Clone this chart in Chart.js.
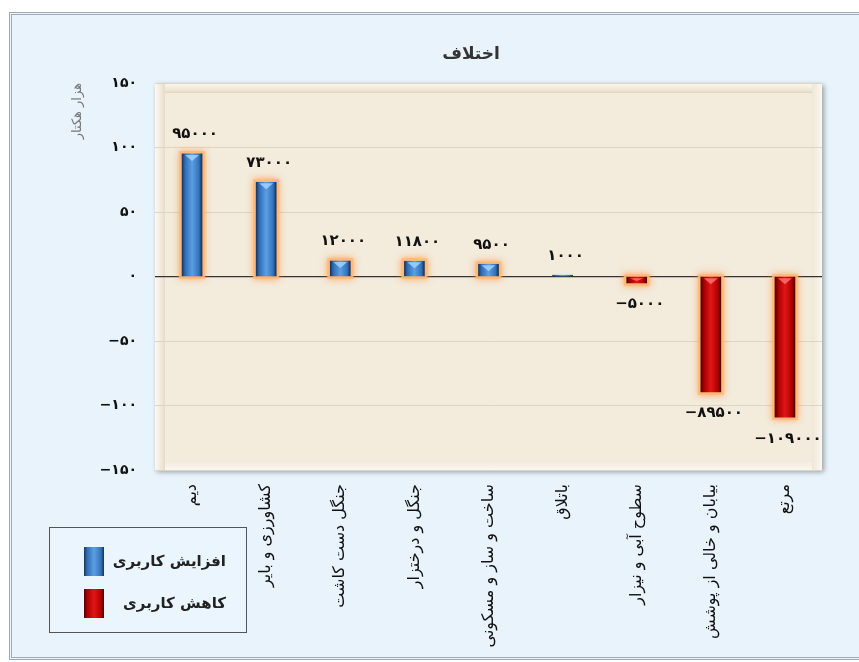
<!DOCTYPE html>
<html>
<head>
<meta charset="utf-8">
<script src="https://cdn.jsdelivr.net/npm/chart.js@4"></script>
<style>
  html, body { margin: 0; padding: 0; background: #fff; }
  #wrap { position: relative; width: 859px; height: 662px; overflow: hidden; }
  #panel {
    position: absolute; left: 9px; top: 12px; width: 880px; height: 642px;
    background: #e8f3fc; border: 3px double #a2abb3;
  }
  canvas { position: absolute; left: 0; top: 0; }
</style>
</head>
<body>
<div id="wrap">
  <div id="panel"></div>
  <canvas id="chart" width="859" height="662"></canvas>
</div>
<script>
// ── داده‌ها (هزار هکتار) ──
const categories = [
  "دیم",
  "کشاورزی و بایر",
  "جنگل دست کاشت",
  "جنگل و درختزار",
  "ساخت و ساز و مسکونی",
  "باتلاق",
  "سطوح آبی و نیزار",
  "بیابان و خالی از پوشش",
  "مرتع",
];
const values = [95, 73, 12, 11.8, 9.5, 1, -5, -89.5, -109];
const valueLabels = [95000, 73000, 12000, 11800, 9500, 1000, -5000, -89500, -109000];
const yTicks = [-150, -100, -50, 0, 50, 100, 150];
const legendLabels = ["افزایش کاربری", "کاهش کاربری"];

const FONT = "'DejaVu Sans', sans-serif";
const BAR_W = 20;

// اعداد فارسی
function fa(n) {
  return String(n).replace(/-/g, "−").replace(/\d/g, (d) => "۰۱۲۳۴۵۶۷۸۹"[d]);
}

function barGradient(ctx, x, w, positive) {
  const g = ctx.createLinearGradient(x - w / 2, 0, x + w / 2, 0);
  if (positive) {
    g.addColorStop(0, "#17365f");
    g.addColorStop(0.15, "#2f6cb3");
    g.addColorStop(0.5, "#5b9fe3");
    g.addColorStop(0.85, "#3372bb");
    g.addColorStop(1, "#142f55");
  } else {
    g.addColorStop(0, "#4f0000");
    g.addColorStop(0.15, "#a80000");
    g.addColorStop(0.5, "#e01616");
    g.addColorStop(0.85, "#b00000");
    g.addColorStop(1, "#4a0000");
  }
  return g;
}

// ── قاب زمینه نمودار ──
const framePlugin = {
  id: "frame",
  beforeDraw(chart) {
    const { ctx, chartArea: a } = chart;
    const w = a.right - a.left, h = a.bottom - a.top;
    ctx.save();
    ctx.shadowColor = "rgba(0,0,0,0.35)";
    ctx.shadowBlur = 5;
    ctx.shadowOffsetX = 2;
    ctx.shadowOffsetY = 2;
    ctx.fillStyle = "#f8f2e7";
    ctx.fillRect(a.left, a.top, w, h);
    ctx.restore();

    const b = 10;
    ctx.save();
    ctx.fillStyle = "#f3ebdc";
    ctx.fillRect(a.left + b, a.top + b, w - 2 * b, h - 2 * b);
    // لبه‌های برجسته
    let g = ctx.createLinearGradient(0, a.top, 0, a.top + b);
    g.addColorStop(0, "#fcf9f3");
    g.addColorStop(0.7, "#efe6d5");
    g.addColorStop(1, "#e2d6c0");
    ctx.fillStyle = g;
    ctx.fillRect(a.left + b, a.top, w - 2 * b, b);
    g = ctx.createLinearGradient(a.left, 0, a.left + b, 0);
    g.addColorStop(0, "#fcf9f3");
    g.addColorStop(0.7, "#efe6d5");
    g.addColorStop(1, "#e5dac6");
    ctx.fillStyle = g;
    ctx.fillRect(a.left, a.top, b, h);
    g = ctx.createLinearGradient(a.right - b, 0, a.right, 0);
    g.addColorStop(0, "#efe6d6");
    g.addColorStop(1, "#fbf8f1");
    ctx.fillStyle = g;
    ctx.fillRect(a.right - b, a.top, b, h);
    g = ctx.createLinearGradient(0, a.bottom - b, 0, a.bottom);
    g.addColorStop(0, "#f1e9da");
    g.addColorStop(1, "#fbf8f1");
    ctx.fillStyle = g;
    ctx.fillRect(a.left + b, a.bottom - b, w - 2 * b, b);
    ctx.restore();
  },
};

// ── هاله نارنجی، سر میله‌ها، برچسب‌ها، عنوان و راهنما ──
const barsPlugin = {
  id: "bars",
  beforeDatasetsDraw(chart) {
    const ctx = chart.ctx;
    const meta = chart.getDatasetMeta(0);
    ctx.save();
    ctx.shadowColor = "rgba(255,140,50,0.9)";
    ctx.shadowBlur = 7;
    ctx.fillStyle = "rgba(255,185,120,0.85)";
    meta.data.forEach((el) => {
      const top = Math.min(el.y, el.base);
      const bot = Math.max(el.y, el.base);
      if (bot - top < 2) return;
      ctx.fillRect(el.x - el.width / 2 - 3, top - 3, el.width + 6, bot - top + 6);
    });
    ctx.restore();
  },
  afterDatasetsDraw(chart) {
    const ctx = chart.ctx;
    const meta = chart.getDatasetMeta(0);
    meta.data.forEach((el, i) => {
      const v = values[i];
      const top = Math.min(el.y, el.base);
      const bot = Math.max(el.y, el.base);
      const w = el.width;
      // سر مثلثی روشن
      if (bot - top > 4) {
        ctx.save();
        ctx.fillStyle = v > 0 ? "rgba(160,210,255,0.85)" : "rgba(255,120,120,0.8)";
        const d = Math.min(7, bot - top - 2);
        ctx.beginPath();
        ctx.moveTo(el.x - w / 2 + 3, top + 1);
        ctx.lineTo(el.x + w / 2 - 3, top + 1);
        ctx.lineTo(el.x, top + d);
        ctx.closePath();
        ctx.fill();
        ctx.restore();
      }
      // برچسب مقدار
      ctx.save();
      ctx.font = "bold 15px " + FONT;
      ctx.fillStyle = "#111";
      ctx.textAlign = "center";
      if (v >= 0) {
        ctx.textBaseline = "bottom";
        ctx.fillText(fa(valueLabels[i]), el.x + 3, el.y - 12);
      } else {
        ctx.textBaseline = "top";
        ctx.fillText(fa(valueLabels[i]), el.x + 3, el.y + 14);
      }
      ctx.restore();
    });
  },
  afterDraw(chart) {
    const ctx = chart.ctx;
    // عنوان
    ctx.save();
    ctx.font = "bold 17px " + FONT;
    ctx.fillStyle = "#333";
    ctx.textAlign = "center";
    ctx.textBaseline = "middle";
    ctx.fillText("اختلاف", 471, 55);
    ctx.restore();

    // راهنما
    ctx.save();
    ctx.fillStyle = "#ebf5fd";
    ctx.fillRect(49, 527, 198, 106);
    ctx.strokeStyle = "#555";
    ctx.lineWidth = 1;
    ctx.strokeRect(49.5, 527.5, 197, 105);
    const items = [
      { y: 547, pos: true },
      { y: 589, pos: false },
    ];
    items.forEach((it, k) => {
      ctx.fillStyle = barGradient(ctx, 94, 20, it.pos);
      ctx.fillRect(84, it.y, 20, 29);
      ctx.font = "bold 15px " + FONT;
      ctx.fillStyle = "#222";
      ctx.textAlign = "right";
      ctx.textBaseline = "middle";
      ctx.fillText(legendLabels[k], 226, it.y + 15);
    });
    ctx.restore();
  },
};

new Chart(document.getElementById("chart"), {
  type: "bar",
  data: {
    labels: categories,
    datasets: [
      {
        data: values,
        barThickness: BAR_W,
        borderWidth: 0,
        backgroundColor: (c) => {
          const chart = c.chart;
          const v = values[c.dataIndex];
          if (!chart.chartArea || !chart.scales.x) return v >= 0 ? "#4a8fd6" : "#d01010";
          const x = chart.scales.x.getPixelForValue(c.dataIndex);
          return barGradient(chart.ctx, x, BAR_W, v >= 0);
        },
      },
    ],
  },
  options: {
    responsive: false,
    animation: false,
    layout: { padding: { top: 83, right: 37, bottom: 10, left: 0 } },
    plugins: {
      legend: { display: false },
      title: { display: false },
      tooltip: { enabled: false },
    },
    scales: {
      x: {
        afterFit: (s) => { s.height = 182; },
        grid: { display: false, drawTicks: false },
        border: { display: false },
        ticks: {
          autoSkip: false,
          maxRotation: 90,
          minRotation: 90,
          padding: 14,
          color: "#111",
          font: { family: FONT, size: 16 },
        },
      },
      y: {
        min: -150,
        max: 150,
        afterFit: (s) => { s.width = 155; },
        afterBuildTicks: (s) => { s.ticks = yTicks.map((v) => ({ value: v })); },
        border: { display: false },
        grid: {
          drawTicks: false,
          color: (c) => (c.tick && c.tick.value === 0 ? "#333" : "#ddd4c4"),
          lineWidth: (c) => (c.tick && c.tick.value === 0 ? 1.3 : 1),
        },
        ticks: {
          padding: 18,
          color: "#111",
          font: { family: FONT, size: 14, weight: "bold" },
          callback: (v) => fa(v),
        },
        title: {
          display: true,
          text: "هزار هکتار",
          align: "end",
          color: "#777",
          font: { family: FONT, size: 13 },
          padding: { top: 70, bottom: 0 },
        },
      },
    },
  },
  plugins: [framePlugin, barsPlugin],
});
</script>
</body>
</html>
